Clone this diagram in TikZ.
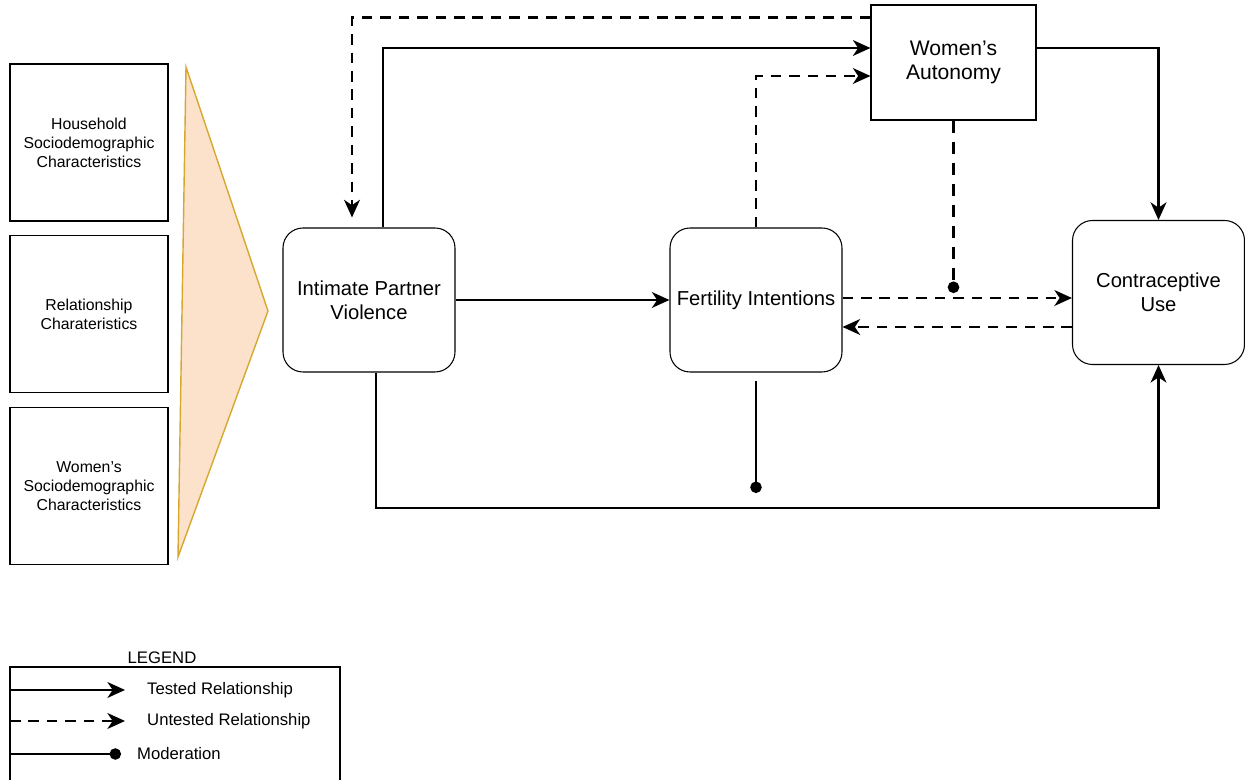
\documentclass[tikz,border=0pt]{standalone}
\usepackage{fontspec}
\setmainfont{Liberation Sans}
\usetikzlibrary{arrows.meta}
\definecolor{wedgefill}{RGB}{252,226,202}
\definecolor{wedgeline}{RGB}{214,168,48}

\begin{document}
\begin{tikzpicture}[
    tested/.style={line width=1.4pt,-{Stealth[length=10pt,width=9pt,inset=3pt]}},
    untested/.style={line width=1.4pt,dash pattern=on 6pt off 4.5pt,-{Stealth[length=10pt,width=9pt,inset=3pt]}},
    moderation/.style={line width=1.4pt,-{Circle[length=6.5pt]}},
    factor/.style={draw,line width=0.6pt,minimum width=3.16cm,minimum height=3.14cm,align=center,font=\fontsize{9}{10.8}\selectfont},
    concept/.style={draw,line width=0.6pt,rounded corners=0.4cm,minimum width=3.44cm,minimum height=2.88cm,align=center,font=\fontsize{11.5}{13.6}\selectfont},
    legendtext/.style={anchor=west,font=\fontsize{9.5}{11}\selectfont}]
\useasboundingbox (0,0) rectangle (24.9,15.6);
            \node[factor] (hh) at (1.78,12.75) {Household\\Sociodemographic\\Characteristics};
            \node[factor] (rel) at (1.78,9.32) {Relationship\\Charateristics};
            \node[factor] (wsd) at (1.78,5.88) {Women's\\Sociodemographic\\Characteristics};
            \draw[wedgeline,fill=wedgefill,line width=0.8pt](3.72,14.26)--(5.36,9.38)--(3.56,4.46)--cycle;
            \node[concept] (ipv) at (7.38,9.6) {Intimate Partner\\Violence};
            \node[concept] (fert) at (15.12,9.6) {Fertility Intentions};
            \node[concept] (contra) at (23.17,9.75) {Contraceptive\\Use};
            \node[draw,line width=0.6pt,minimum width=3.3cm,minimum height=2.3cm,align=center,font=\fontsize{12}{14}\selectfont] (aut) at (19.07,14.35) {Women's\\Autonomy};
            \coordinate (bot) at (7.52,5.44);
            \coordinate (modf) at (15.12,5.74);
            \coordinate (moda) at (19.07,9.74);
            \draw[untested]([yshift=-0.26cm]aut.north west) -| ([xshift=-0.34cm,yshift=0.2cm]ipv.north);
            \draw[tested]([xshift=0.28cm]ipv.north) |- ([yshift=0.29cm]aut.west);
            \draw[untested](fert.north) |- ([yshift=-0.27cm]aut.west);
            \draw[tested]([yshift=0.29cm]aut.east) -| (contra.north);
            \draw[moderation,line width=2pt,dash pattern=on 7pt off 5pt](aut.south) -- (moda);
            \draw[tested](ipv.east)--(fert.west);
            \draw[untested]([yshift=0.04cm]fert.east)--([yshift=0.04cm]fert.east -| contra.west);
            \draw[untested]([yshift=-0.54cm]fert.east -| contra.west)--([yshift=-0.54cm]fert.east);
            \draw[tested]([xshift=0.14cm]ipv.south)--(bot) -| (contra.south);
            \draw[moderation]([yshift=-0.16cm]fert.south)--(modf);
            % legend
            \node[font=\fontsize{9.5}{11}\selectfont] (legtitle) at (3.24,2.44) {LEGEND};
            \draw[line width=0.6pt](0.2,-0.5) rectangle (6.8,2.26);
            \coordinate (l1a) at (0.2,1.8);
            \coordinate (l1b) at (2.5,1.8);
            \coordinate (l2a) at (0.2,1.18);
            \coordinate (l2b) at (2.5,1.18);
            \coordinate (l3a) at (0.2,0.52);
            \coordinate (l3b) at (2.42,0.52);
            \draw[tested](l1a)--(l1b);
            \draw[untested](l2a)--(l2b);
            \draw[moderation](l3a)--(l3b);
            \node[legendtext] (t1) at (2.82,1.8) {Tested Relationship};
            \node[legendtext] (t2) at (2.82,1.18) {Untested Relationship};
            \node[legendtext] (t3) at (2.62,0.52) {Moderation};
\end{tikzpicture}
\end{document}
